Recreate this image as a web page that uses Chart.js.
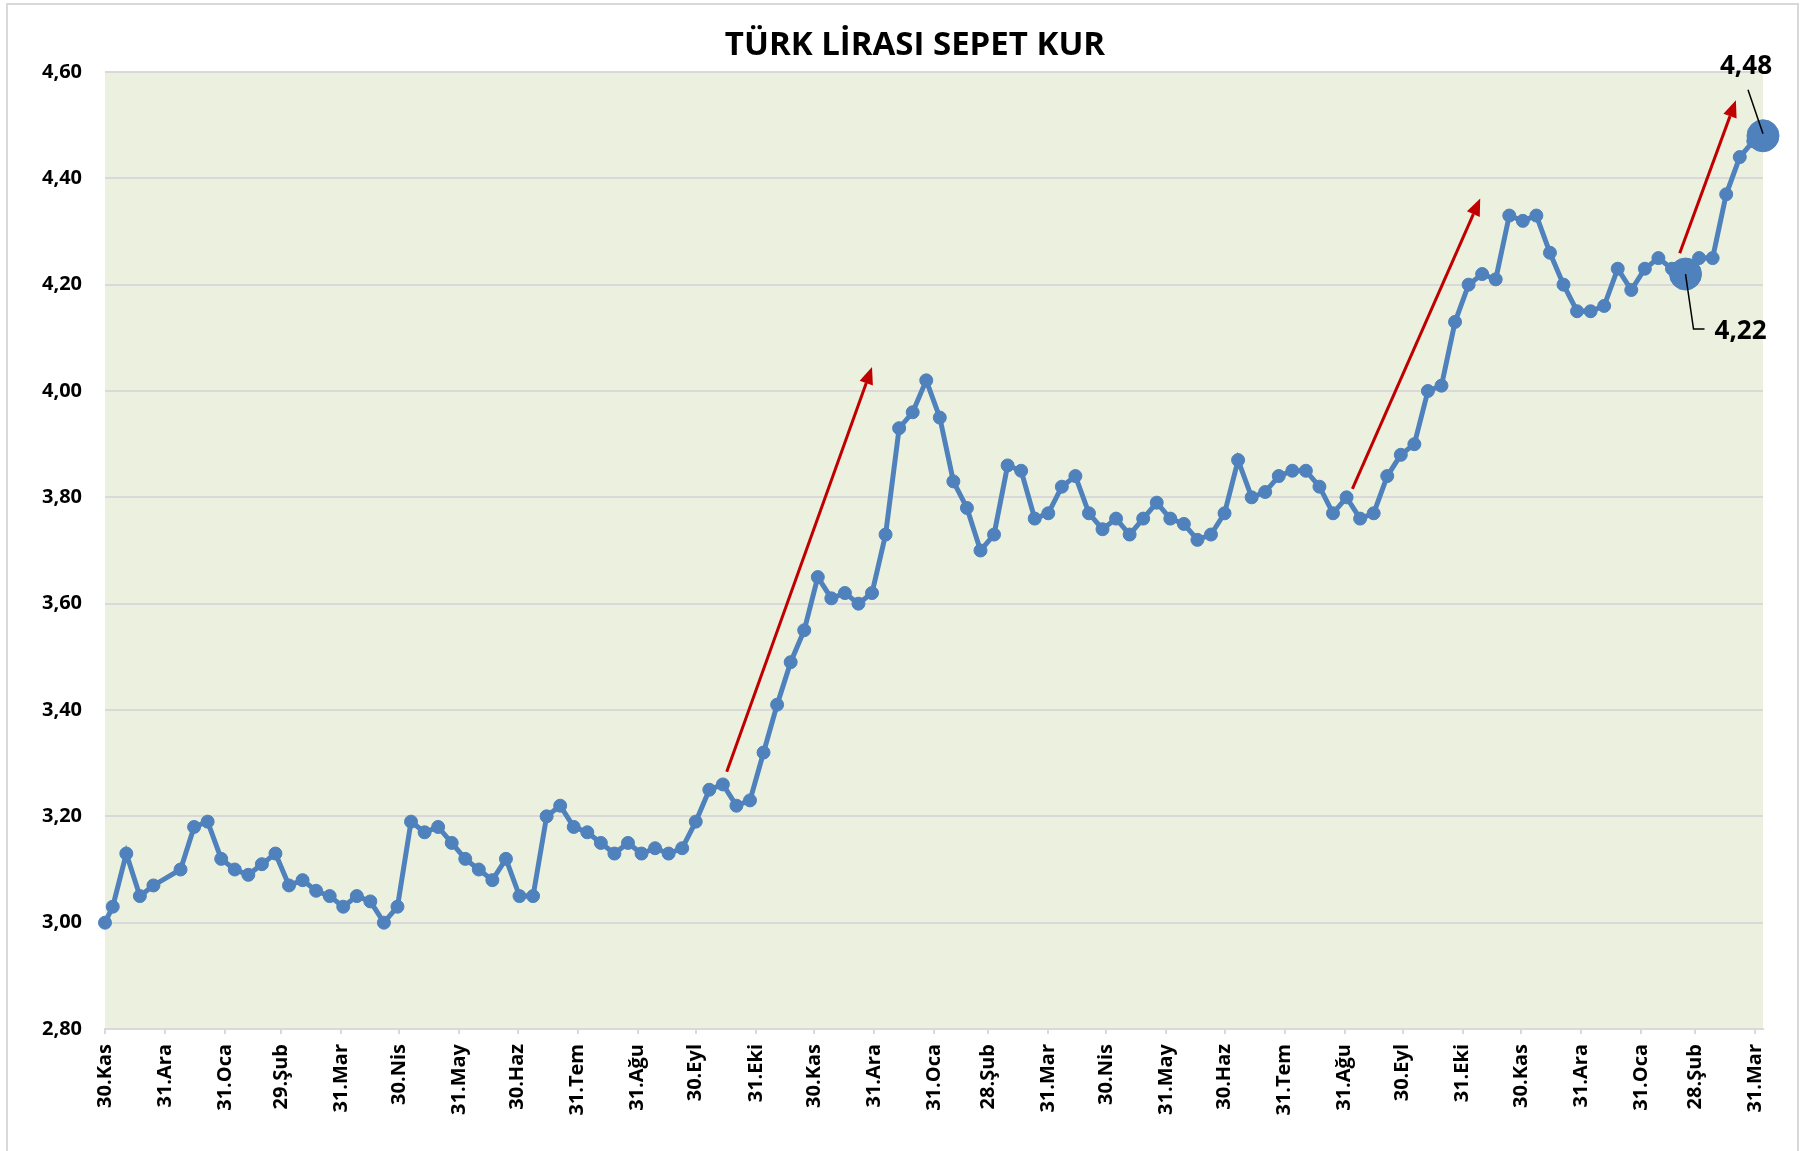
<!DOCTYPE html>
<html>
<head>
<meta charset="utf-8">
<script src="https://cdn.jsdelivr.net/npm/chart.js@4.4.0/dist/chart.umd.min.js"></script>
<style>
  html, body { margin: 0; padding: 0; background: #fff; }
  #wrap { width: 1810px; height: 1151px; position: relative; }
</style>
</head>
<body>
<div id="wrap"><canvas id="chart" width="1810" height="1151"></canvas></div>
<script>
// weekly basket rate (Friday closes), first point 30.11.2015, last 04.04.2018
const dates = [
  "2015-11-30","2015-12-04","2015-12-11","2015-12-18","2015-12-25",
  "2016-01-08","2016-01-15","2016-01-22","2016-01-29",
  "2016-02-05","2016-02-12","2016-02-19","2016-02-26",
  "2016-03-04","2016-03-11","2016-03-18","2016-03-25",
  "2016-04-01","2016-04-08","2016-04-15","2016-04-22","2016-04-29",
  "2016-05-06","2016-05-13","2016-05-20","2016-05-27",
  "2016-06-03","2016-06-10","2016-06-17","2016-06-24",
  "2016-07-01","2016-07-08","2016-07-15","2016-07-22","2016-07-29",
  "2016-08-05","2016-08-12","2016-08-19","2016-08-26",
  "2016-09-02","2016-09-09","2016-09-16","2016-09-23","2016-09-30",
  "2016-10-07","2016-10-14","2016-10-21","2016-10-28",
  "2016-11-04","2016-11-11","2016-11-18","2016-11-25",
  "2016-12-02","2016-12-09","2016-12-16","2016-12-23","2016-12-30",
  "2017-01-06","2017-01-13","2017-01-20","2017-01-27",
  "2017-02-03","2017-02-10","2017-02-17","2017-02-24",
  "2017-03-03","2017-03-10","2017-03-17","2017-03-24","2017-03-31",
  "2017-04-07","2017-04-14","2017-04-21","2017-04-28",
  "2017-05-05","2017-05-12","2017-05-19","2017-05-26",
  "2017-06-02","2017-06-09","2017-06-16","2017-06-23","2017-06-30",
  "2017-07-07","2017-07-14","2017-07-21","2017-07-28",
  "2017-08-04","2017-08-11","2017-08-18","2017-08-25",
  "2017-09-01","2017-09-08","2017-09-15","2017-09-22","2017-09-29",
  "2017-10-06","2017-10-13","2017-10-20","2017-10-27",
  "2017-11-03","2017-11-10","2017-11-17","2017-11-24",
  "2017-12-01","2017-12-08","2017-12-15","2017-12-22","2017-12-29",
  "2018-01-05","2018-01-12","2018-01-19","2018-01-26",
  "2018-02-02","2018-02-09","2018-02-16","2018-02-23",
  "2018-03-02","2018-03-09","2018-03-16","2018-03-23","2018-03-30",
  "2018-04-04"
]
const rates = [
  3.00,3.03,3.13,3.05,3.07,
  3.10,3.18,3.19,3.12,
  3.10,3.09,3.11,3.13,
  3.07,3.08,3.06,3.05,
  3.03,3.05,3.04,3.00,3.03,
  3.19,3.17,3.18,3.15,
  3.12,3.10,3.08,3.12,
  3.05,3.05,3.20,3.22,3.18,
  3.17,3.15,3.13,3.15,
  3.13,3.14,3.13,3.14,3.19,
  3.25,3.26,3.22,3.23,
  3.32,3.41,3.49,3.55,
  3.65,3.61,3.62,3.60,3.62,
  3.73,3.93,3.96,4.02,
  3.95,3.83,3.78,3.70,
  3.73,3.86,3.85,3.76,3.77,
  3.82,3.84,3.77,3.74,
  3.76,3.73,3.76,3.79,
  3.76,3.75,3.72,3.73,3.77,
  3.87,3.80,3.81,3.84,
  3.85,3.85,3.82,3.77,
  3.80,3.76,3.77,3.84,3.88,
  3.90,4.00,4.01,4.13,
  4.20,4.22,4.21,4.33,
  4.32,4.33,4.26,4.20,4.15,
  4.15,4.16,4.23,4.19,
  4.23,4.25,4.23,4.22,
  4.25,4.25,4.37,4.44,4.47,
  4.48
]

const tickDates = [
  "2015-11-30","2015-12-31","2016-01-31","2016-02-29","2016-03-31","2016-04-30","2016-05-31",
  "2016-06-30","2016-07-31","2016-08-31","2016-09-30","2016-10-31","2016-11-30","2016-12-31",
  "2017-01-31","2017-02-28","2017-03-31","2017-04-30","2017-05-31","2017-06-30","2017-07-31",
  "2017-08-31","2017-09-30","2017-10-31","2017-11-30","2017-12-31","2018-01-31","2018-02-28",
  "2018-03-31"
]
const tickLabels = [
  "30.Kas","31.Ara","31.Oca","29.Şub","31.Mar","30.Nis","31.May",
  "30.Haz","31.Tem","31.Ağu","30.Eyl","31.Eki","30.Kas","31.Ara",
  "31.Oca","28.Şub","31.Mar","30.Nis","31.May","30.Haz","31.Tem",
  "31.Ağu","30.Eyl","31.Eki","30.Kas","31.Ara","31.Oca","28.Şub",
  "31.Mar"
]
const yTicks = [2.80, 3.00, 3.20, 3.40, 3.60, 3.80, 4.00, 4.20, 4.40, 4.60]

const chartTitle = "TÜRK LİRASI SEPET KUR"
// highlighted points with callout labels
const highlightDates = ["2018-02-23", "2018-04-04"]
const highlightLabels = ["4,22", "4,48"]
// red trend arrows: [start date, start value, end date, end value]
const arrows = [
  ["2016-10-16", 3.284, "2016-12-30", 4.045],
  ["2017-09-04", 3.816, "2017-11-09", 4.362],
  ["2018-02-20", 4.259, "2018-03-21", 4.547]
]

const dayOf = s => (Date.parse(s) - Date.parse(dates[0])) / 86400000
const fmt = v => v.toFixed(2).replace('.', ',')
const FONT = "'Open Sans', 'DejaVu Sans', sans-serif"
const BLUE = '#4F81BD'
const GRID = '#D9D9D9'

const points = dates.map((d, i) => ({ x: dayOf(d), y: rates[i] }))
const bigIdx = highlightDates.map(d => dates.indexOf(d))

const frame = {
  id: 'frame',
  beforeDraw(chart) {
    const { ctx, chartArea: a } = chart
    ctx.save()
    ctx.fillStyle = '#fff'
    ctx.fillRect(0, 0, chart.width, chart.height)
    ctx.fillStyle = '#EBF1DE'
    ctx.fillRect(a.left, a.top, a.right - a.left, a.bottom - a.top)
    ctx.strokeStyle = GRID
    ctx.lineWidth = 2
    ctx.strokeRect(7, 4, 1791, 1152)
    ctx.fillStyle = '#000'
    ctx.font = `bold 33px ${FONT}`
    ctx.textAlign = 'center'
    ctx.textBaseline = 'middle'
    ctx.fillText(chartTitle, 915, 46)
    ctx.restore()
  }
}

const notes = {
  id: 'notes',
  afterDatasetsDraw(chart) {
    const { ctx } = chart
    const xs = chart.scales.x, ys = chart.scales.y
    ctx.save()
    // arrows
    ctx.strokeStyle = '#C00000'
    ctx.fillStyle = '#C00000'
    ctx.lineWidth = 3
    arrows.forEach(a => {
      const x1 = xs.getPixelForValue(dayOf(a[0])), y1 = ys.getPixelForValue(a[1])
      const x2 = xs.getPixelForValue(dayOf(a[2])), y2 = ys.getPixelForValue(a[3])
      const ang = Math.atan2(y2 - y1, x2 - x1)
      const hl = 17, hw = 7
      const bx = x2 - hl * Math.cos(ang), by = y2 - hl * Math.sin(ang)
      ctx.beginPath()
      ctx.moveTo(x1, y1)
      ctx.lineTo(bx, by)
      ctx.stroke()
      ctx.beginPath()
      ctx.moveTo(x2, y2)
      ctx.lineTo(bx + hw * Math.sin(ang), by - hw * Math.cos(ang))
      ctx.lineTo(bx - hw * Math.sin(ang), by + hw * Math.cos(ang))
      ctx.closePath()
      ctx.fill()
    })
    // callouts
    ctx.strokeStyle = '#000'
    ctx.fillStyle = '#000'
    ctx.lineWidth = 1.5
    ctx.font = `bold 26px ${FONT}`
    ctx.textBaseline = 'middle'
    const p0 = { x: xs.getPixelForValue(points[bigIdx[0]].x), y: ys.getPixelForValue(points[bigIdx[0]].y) }
    ctx.beginPath()
    ctx.moveTo(p0.x, p0.y)
    ctx.lineTo(p0.x + 8, p0.y + 55)
    ctx.lineTo(p0.x + 19, p0.y + 55)
    ctx.stroke()
    ctx.textAlign = 'left'
    ctx.fillText(highlightLabels[0], p0.x + 29, p0.y + 58)
    const p1 = { x: xs.getPixelForValue(points[bigIdx[1]].x), y: ys.getPixelForValue(points[bigIdx[1]].y) }
    ctx.beginPath()
    ctx.moveTo(p1.x - 15, p1.y - 46)
    ctx.lineTo(p1.x, p1.y - 2)
    ctx.stroke()
    ctx.textAlign = 'center'
    ctx.fillText(highlightLabels[1], p1.x - 17, p1.y - 69)
    ctx.restore()
  }
}

new Chart(document.getElementById('chart'), {
  type: 'line',
  data: {
    datasets: [{
      data: points,
      borderColor: BLUE,
      backgroundColor: BLUE,
      borderWidth: 5,
      pointRadius: ctx => bigIdx.includes(ctx.dataIndex) ? 16 : 6.5,
      pointBorderWidth: 1,
      pointBorderColor: BLUE,
      pointBackgroundColor: BLUE,
      tension: 0,
      clip: false
    }]
  },
  options: {
    responsive: false,
    animation: false,
    events: [],
    layout: { padding: { top: 72, right: 47, left: 0, bottom: 0 } },
    plugins: { legend: { display: false }, tooltip: { enabled: false }, title: { display: false } },
    scales: {
      x: {
        type: 'linear',
        min: 0,
        max: dayOf(dates[dates.length - 1]),
        afterBuildTicks: s => { s.ticks = tickDates.map(d => ({ value: dayOf(d) })) },
        afterFit: s => { s.height = 122 },
        ticks: {
          autoSkip: false,
          minRotation: 90,
          maxRotation: 90,
          padding: 10,
          color: '#000',
          font: { family: FONT, size: 20, weight: 'bold' },
          callback: (v, i) => tickLabels[i]
        },
        grid: { drawOnChartArea: false, drawTicks: true, tickLength: 5, color: GRID, lineWidth: 2 },
        border: { color: GRID, width: 2 }
      },
      y: {
        min: 2.8,
        max: 4.6,
        afterBuildTicks: s => { s.ticks = yTicks.map(v => ({ value: v })) },
        afterFit: s => { s.width = 105 },
        ticks: {
          padding: 23,
          color: '#000',
          font: { family: FONT, size: 20, weight: 'bold' },
          callback: v => fmt(v)
        },
        grid: { color: GRID, lineWidth: 2, drawTicks: false },
        border: { display: false }
      }
    }
  },
  plugins: [frame, notes]
})
</script>
</body>
</html>
